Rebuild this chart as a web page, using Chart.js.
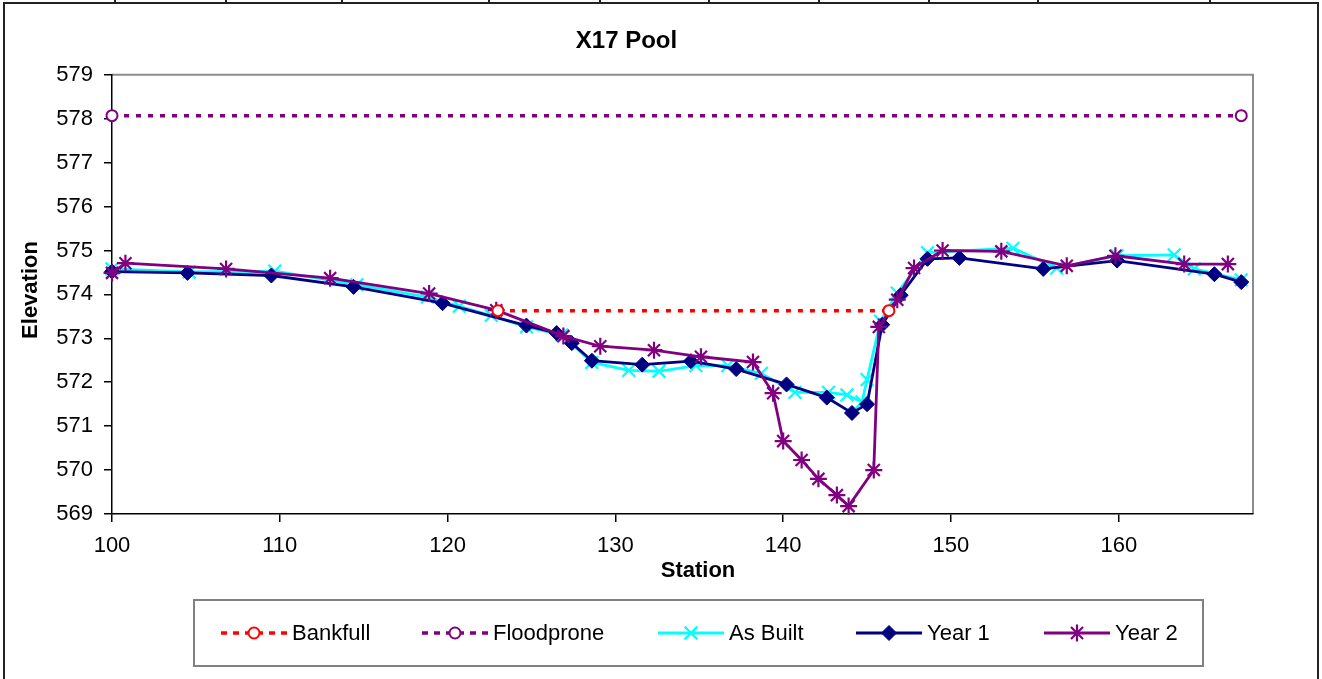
<!DOCTYPE html>
<html>
<head>
<meta charset="utf-8">
<title>X17 Pool</title>
<script src="https://cdn.jsdelivr.net/npm/chart.js@4.4.1/dist/chart.umd.min.js"></script>
<style>
  html, body { margin: 0; padding: 0; background: #fff; overflow: hidden; }
  #wrap { width: 1322px; height: 679px; }
</style>
</head>
<body>
<div id="wrap"><canvas id="poolChart" width="1322" height="679"></canvas></div>
<script>
// X17 Pool - cross section (station vs elevation)

const chartTitle = 'X17 Pool';
const xAxisTitle = 'Station';
const yAxisTitle = 'Elevation';

const xTicks = { min: 100, max: 168, step: 10 };
const yTicks = { min: 569, max: 579, step: 1 };

const bankfullX = [123.0, 146.3];
const bankfullY = [573.63, 573.63];

const floodproneX = [100.0, 167.3];
const floodproneY = [578.07, 578.07];

const asBuiltX = [100.0, 104.6, 109.7, 114.6, 118.8, 120.7, 122.6, 124.7, 126.8, 128.6,
                  130.8, 132.6, 134.8, 136.7, 138.7, 140.7, 142.7, 143.8, 144.7, 145.0,
                  145.8, 146.8, 148.6, 153.7, 156.3, 159.9, 163.3, 164.5, 167.3];
const asBuiltY = [574.58, 574.51, 574.53, 574.22, 573.94, 573.73, 573.52, 573.26, 573.08, 572.45,
                  572.27, 572.25, 572.38, 572.38, 572.20, 571.77, 571.77, 571.71, 571.55, 572.06,
                  573.39, 574.03, 574.95, 575.05, 574.60, 574.88, 574.90, 574.58, 574.33];

const year1X = [100.0, 104.5, 109.5, 114.4, 119.7, 124.7, 126.5, 127.4, 128.6, 131.6,
                134.5, 137.2, 140.2, 142.6, 144.1, 145.0, 145.9, 147.0, 148.6, 150.5,
                155.5, 159.9, 165.7, 167.3];
const year1Y = [574.52, 574.49, 574.43, 574.17, 573.80, 573.29, 573.12, 572.89, 572.49, 572.40,
                572.48, 572.30, 571.95, 571.65, 571.30, 571.50, 573.31, 573.98, 574.81, 574.83,
                574.58, 574.77, 574.46, 574.28];

const year2X = [100.0, 100.8, 106.8, 113.0, 118.9, 122.9, 126.9, 129.1, 132.3, 135.1,
                138.2, 139.4, 140.0, 141.1, 142.1, 143.2, 143.9, 145.4, 145.7, 146.8,
                147.8, 149.5, 153.0, 156.9, 159.8, 163.9, 166.5];
const year2Y = [574.49, 574.71, 574.58, 574.37, 574.02, 573.64, 573.05, 572.82, 572.73, 572.58,
                572.46, 571.75, 570.66, 570.23, 569.80, 569.43, 569.18, 570.00, 573.26, 573.88,
                574.60, 575.00, 574.98, 574.65, 574.88, 574.69, 574.69];

const FONT = 'Arial, "Liberation Sans", sans-serif';

function toPoints(xs, ys) {
    return xs.map((x, i) => ({ x: x, y: ys[i] }));
}

const datasets = [
    {
        label: 'Bankfull', data: toPoints(bankfullX, bankfullY), order: 0,
        borderColor: '#FF0000', borderWidth: 3.5, borderDash: [5, 7],
        pointStyle: 'circle', pointRadius: 5.5, pointBorderWidth: 2,
        pointBorderColor: '#FF0000', pointBackgroundColor: '#FFFFFF'
    },
    {
        label: 'Floodprone', data: toPoints(floodproneX, floodproneY), order: 4,
        borderColor: '#800080', borderWidth: 3.5, borderDash: [5, 7],
        pointStyle: 'circle', pointRadius: 5.5, pointBorderWidth: 2,
        pointBorderColor: '#800080', pointBackgroundColor: '#FFFFFF'
    },
    {
        label: 'As Built', data: toPoints(asBuiltX, asBuiltY), order: 3,
        borderColor: '#00FFFF', borderWidth: 2.8,
        pointStyle: 'crossRot', pointRadius: 9, pointBorderWidth: 2.2,
        pointBorderColor: '#00FFFF', pointBackgroundColor: '#00FFFF'
    },
    {
        label: 'Year 1', data: toPoints(year1X, year1Y), order: 2,
        borderColor: '#000080', borderWidth: 2.8,
        pointStyle: 'rectRot', pointRadius: 7.5, pointBorderWidth: 1,
        pointBorderColor: '#000080', pointBackgroundColor: '#000080'
    },
    {
        label: 'Year 2', data: toPoints(year2X, year2Y), order: 1,
        borderColor: '#800080', borderWidth: 2.8,
        pointStyle: 'star', pointRadius: 8.5, pointBorderWidth: 2.2,
        pointBorderColor: '#800080', pointBackgroundColor: '#800080'
    }
];
datasets.forEach(ds => { ds.showLine = true; ds.clip = false; ds.tension = 0; ds.pointHoverRadius = ds.pointRadius; });

// Marco, borde gris del área de trazado y títulos de ejes
const framePlugin = {
    id: 'frame',
    beforeDraw(chart) {
        const ctx = chart.ctx;
        const area = chart.chartArea;
        ctx.save();
        ctx.fillStyle = '#fff';
        ctx.fillRect(0, 0, chart.width, chart.height);
        // cuadro exterior (celdas de la hoja por encima)
        ctx.strokeStyle = '#222';
        ctx.lineWidth = 2;
        ctx.beginPath();
        ctx.moveTo(4, 680); ctx.lineTo(4, 3); ctx.lineTo(1318, 3); ctx.lineTo(1318, 680);
        [115, 226, 342, 489, 600, 709, 819, 929, 1038, 1210].forEach(x => {
            ctx.moveTo(x, 0); ctx.lineTo(x, 3);
        });
        ctx.stroke();
        // borde superior y derecho del área de trazado
        ctx.strokeStyle = '#8c8c8c';
        ctx.lineWidth = 2;
        ctx.beginPath();
        ctx.moveTo(area.left, area.top);
        ctx.lineTo(area.right, area.top);
        ctx.lineTo(area.right, area.bottom);
        ctx.stroke();
        ctx.restore();
    },
    afterDraw(chart) {
        const ctx = chart.ctx;
        ctx.save();
        ctx.fillStyle = '#000';
        ctx.font = 'bold 22px ' + FONT;
        ctx.textAlign = 'center';
        ctx.textBaseline = 'middle';
        ctx.fillText(xAxisTitle, 698, 571);
        ctx.translate(31, 290);
        ctx.rotate(-Math.PI / 2);
        ctx.fillText(yAxisTitle, 0, 0);
        ctx.restore();
    }
};

// Leyenda estilo Excel: línea + marcador + texto, dentro de un recuadro
const legendPlugin = {
    id: 'excelLegend',
    afterDraw(chart) {
        const ctx = chart.ctx;
        const starts = [221, 422, 658, 856, 1044];
        const cy = 633;
        ctx.save();
        ctx.strokeStyle = '#808080';
        ctx.lineWidth = 2;
        ctx.strokeRect(194, 600, 1009, 66);
        chart.data.datasets.forEach((ds, i) => {
            const x0 = starts[i];
            ctx.strokeStyle = ds.borderColor;
            ctx.lineWidth = ds.borderDash ? 3.5 : 2.8;
            ctx.setLineDash(ds.borderDash ? [6, 6] : []);
            ctx.beginPath();
            ctx.moveTo(x0, cy);
            ctx.lineTo(x0 + 66, cy);
            ctx.stroke();
            ctx.setLineDash([]);
            ctx.fillStyle = ds.pointBackgroundColor;
            ctx.strokeStyle = ds.pointBorderColor;
            ctx.lineWidth = ds.pointBorderWidth;
            const opts = { pointStyle: ds.pointStyle, radius: ds.pointRadius, borderWidth: ds.pointBorderWidth, rotation: 0 };
            if (Chart.helpers && Chart.helpers.drawPoint) {
                Chart.helpers.drawPoint(ctx, opts, x0 + 33, cy);
            }
            ctx.fillStyle = '#000';
            ctx.font = '22px ' + FONT;
            ctx.textAlign = 'left';
            ctx.textBaseline = 'middle';
            ctx.fillText(ds.label, x0 + 71, cy + 1);
        });
        ctx.restore();
    }
};

const ctx = document.getElementById('poolChart').getContext('2d');
const poolChart = new Chart(ctx, {
    type: 'scatter',
    data: { datasets: datasets },
    options: {
        responsive: false,
        animation: false,
        devicePixelRatio: 1,
        layout: { padding: { left: 0, right: 69, top: 0, bottom: 0 } },
        plugins: {
            legend: { display: false },
            tooltip: { enabled: false },
            title: {
                display: true,
                text: chartTitle,
                color: '#000',
                font: { family: FONT, size: 24, weight: 'bold', lineHeight: 1.2 },
                padding: { top: 27, bottom: 19 }
            }
        },
        scales: {
            x: {
                type: 'linear',
                min: xTicks.min,
                max: xTicks.max,
                afterFit(scale) { scale.height = 165; },
                border: { display: true, color: '#000', width: 1.5 },
                grid: { drawOnChartArea: false, drawTicks: true, tickLength: 8, color: '#000', lineWidth: 1.5 },
                ticks: {
                    stepSize: xTicks.step,
                    includeBounds: false,
                    padding: 11,
                    color: '#000',
                    maxRotation: 0,
                    font: { family: FONT, size: 22 }
                }
            },
            y: {
                type: 'linear',
                min: yTicks.min,
                max: yTicks.max,
                afterFit(scale) { scale.width = 112; },
                border: { display: true, color: '#000', width: 1.5 },
                grid: { drawOnChartArea: false, drawTicks: true, tickLength: 8, color: '#000', lineWidth: 1.5 },
                ticks: {
                    stepSize: yTicks.step,
                    padding: 11,
                    color: '#000',
                    font: { family: FONT, size: 22 }
                }
            }
        }
    },
    plugins: [framePlugin, legendPlugin]
});
</script>
</body>
</html>
